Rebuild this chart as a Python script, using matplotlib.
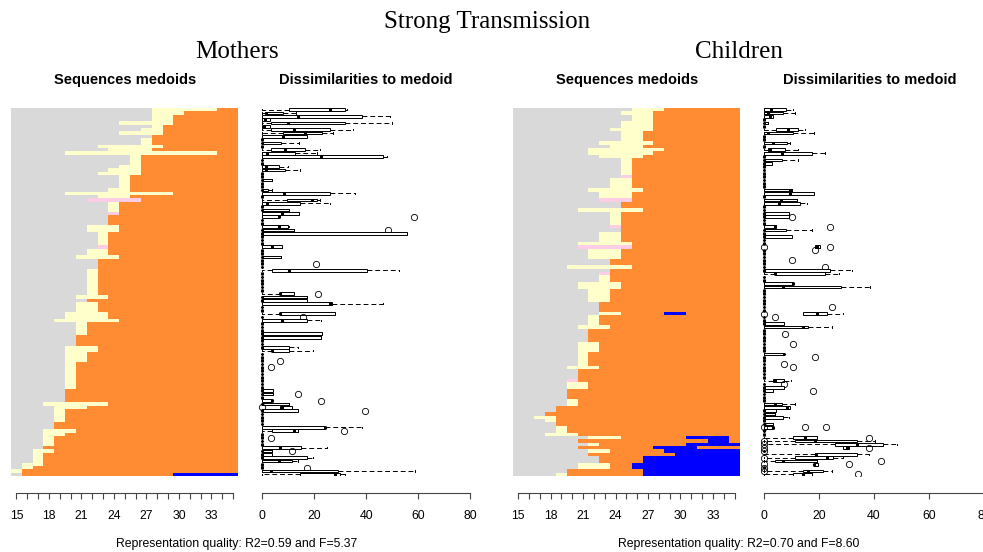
import matplotlib
matplotlib.use('Agg')
import matplotlib.pyplot as plt

plt.rcParams['font.family'] = ['Liberation Sans', 'DejaVu Sans']

W, H = 983, 552

ages = list(range(15, 36))
age_labels = [str(a) if (a - 15) % 3 == 0 and a < 35 else '' for a in ages]
dissim_ticks = [0, 20, 40, 60, 80]

state_colors = {'G': '#D9D9D9', 'Y': '#FFFFCC', 'P': '#FCCDE5',
                'O': '#FF8C33', 'B': '#0000FF'}

# medoid sequences, one per row, as state/duration runs (ages 15-35)
mothers_seq = [
    "G13-Y6-O2", "G13-Y3-O5", "G13-Y2-O6", "G13-Y2-O6", "G10-Y5-O6", "G13-Y1-O7", "G12-Y2-O7", "G10-Y4-O7", "G13-O8", "G12-Y1-O8",
    "G12-Y1-O8", "G8-Y6-O7", "G9-Y4-O8", "G5-Y14-O2", "G11-Y1-O9", "G11-Y1-O9", "G11-Y1-O9", "G10-Y2-O9", "G9-Y3-O9", "G8-Y4-O9",
    "G10-Y1-O10", "G10-Y1-O10", "G10-Y1-O10", "G10-Y1-O10", "G9-Y2-O10", "G5-Y10-O6", "G8-Y3-O10", "G7-P5-O9", "G9-Y1-O11", "G9-Y1-O11",
    "G9-Y1-O11", "G9-P1-O11", "G9-O12", "G9-O12", "G9-O12", "G7-Y3-O11", "G7-Y3-O11", "G8-Y1-O12", "G8-Y1-O12", "G8-Y1-O12",
    "G8-Y1-O12", "G8-P1-O12", "G7-Y2-O12", "G7-Y2-O12", "G6-Y4-O11", "G8-O13", "G8-O13", "G8-O13", "G7-Y1-O13", "G7-Y1-O13",
    "G7-Y1-O13", "G7-Y1-O13", "G7-Y1-O13", "G7-Y1-O13", "G7-Y1-O13", "G7-Y1-O13", "G6-Y3-O12", "G7-O14", "G6-Y2-O13", "G6-Y2-O13",
    "G6-Y2-O13", "G5-Y4-O12", "G5-Y4-O12", "G4-Y6-O11", "G6-Y1-O14", "G6-Y1-O14", "G6-Y1-O14", "G6-Y1-O14", "G6-O15", "G6-O15",
    "G6-O15", "G5-Y3-O13", "G5-Y3-O13", "G5-Y2-O14", "G5-Y2-O14", "G5-Y2-O14", "G5-Y1-O15", "G5-Y1-O15", "G5-Y1-O15", "G5-Y1-O15",
    "G5-Y1-O15", "G5-Y1-O15", "G5-Y1-O15", "G5-Y1-O15", "G5-O16", "G5-O16", "G5-O16", "G5-O16", "G3-Y6-O12", "G4-Y3-O14",
    "G4-Y1-O16", "G4-Y1-O16", "G4-Y1-O16", "G4-Y1-O16", "G4-O17", "G4-O17", "G3-Y3-O15", "G3-Y2-O16", "G3-Y1-O17", "G3-Y1-O17",
    "G3-Y1-O17", "G3-O18", "G2-Y2-O17", "G2-Y1-O18", "G2-Y1-O18", "G2-Y1-O18", "G1-Y2-O18", "G1-Y1-O19", "Y1-O20", "G1-O14-B6",
]

children_seq = [
    "G11-Y3-O7", "G10-Y3-O8", "G11-Y2-O8", "G11-Y2-O8", "G10-Y3-O8", "G10-Y3-O8", "G9-Y4-O8", "G10-Y2-O9", "G10-Y2-O9", "G10-Y2-O9",
    "G8-Y5-O8", "G9-Y3-O9", "G7-Y7-O7", "G7-Y6-O8", "G8-Y4-O9", "G10-Y1-O10", "G10-Y1-O10", "G10-Y1-O10", "G10-Y1-O10", "G10-Y1-O10",
    "G10-P1-O10", "G9-Y2-O10", "G9-Y2-O10", "G9-Y2-O10", "G7-Y5-O9", "G8-Y3-O10", "G8-Y3-O10", "G8-P3-O10", "G10-O11", "G10-O11",
    "G6-Y6-O9", "G9-Y1-O11", "G9-Y1-O11", "G9-Y1-O11", "G9-Y1-O11", "G9-P1-O11", "G10-O11", "G8-Y2-O11", "G8-Y2-O11", "G8-Y2-O11",
    "G6-Y5-O10", "G6-P5-O10", "G7-Y3-O11", "G7-Y3-O11", "G7-Y3-O11", "G9-O12", "G9-O12", "G5-Y6-O10", "G9-O12", "G8-P1-O12",
    "G8-Y1-O12", "G8-Y1-O12", "G6-Y4-O11", "G6-Y4-O11", "G7-Y2-O12", "G7-Y2-O12", "G7-Y2-O12", "G7-Y2-O12", "G8-O13", "G8-O13",
    "G8-O13", "G8-Y2-O4-B2-O5", "G7-Y1-O13", "G7-Y1-O13", "G7-Y1-O13", "G6-Y3-O12", "G7-O14", "G7-O14", "G7-O14", "G7-O14",
    "G6-Y2-O13", "G6-Y2-O13", "G6-Y2-O13", "G6-Y1-O14", "G6-Y1-O14", "G6-Y1-O14", "G6-Y1-O14", "G5-Y3-O13", "G6-O15", "G6-O15",
    "G6-O15", "G5-P1-O15", "G5-Y2-O14", "G5-Y2-O14", "G5-O16", "G5-O16", "G5-O16", "G5-Y1-O15", "G5-Y1-O15", "G4-O17",
    "G4-O17", "G3-O18", "G2-Y2-O17", "G3-Y1-O17", "G4-O17", "G4-Y1-O16", "G4-Y1-O16", "G3-Y3-O15", "G7-Y3-O6-B4-O1", "G6-O12-B2-O1",
    "G7-Y1-O8-B5", "G6-O7-B4-O4", "G7-Y2-O5-B7", "G7-O8-B6", "G8-O4-B9", "G8-O4-B9", "G6-Y3-O2-B10", "G6-Y3-O2-B10", "G5-O7-B9", "G4-Y1-O7-B9",
]

# dissimilarity boxplots: (row, whisker low, q1, median, q3, whisker high)
# rows not listed have every dissimilarity at 0
mothers_box = [
    (0, 0, 10.4, 26, 31.8, 32.7), (1, 0, 1, 1.4, 8, 13), (2, 0, 0, 13.6, 38.2, 49),
    (3, 0, 0, 1, 3, 3), (4, 0, 3.3, 10, 31.8, 50), (5, 0, 0, 0.5, 3, 3),
    (6, 0, 3.3, 12, 26, 35), (7, 0, 8, 16.4, 23, 27), (8, 0, 0, 8, 17, 17),
    (10, 0, 0, 0, 7, 14), (12, 0, 3.3, 8.7, 16.4, 22), (13, 0, 0, 1.7, 12.6, 21),
    (14, 0, 0, 22.4, 46.3, 47.8), (17, 0, 0, 1.4, 6.5, 10), (18, 0, 0, 1.4, 8.7, 14.5),
    (21, 0, 0, 0, 3.6, 3.6), (24, 0, 0, 0, 2, 3.6), (25, 0, 0, 8.5, 26, 35.6),
    (27, 0, 9.4, 19, 20.9, 22), (28, 0, 0, 1.7, 14.5, 26), (30, 0, 0, 0, 10.4, 10.4),
    (31, 0, 0, 7.7, 14.2, 14.2), (32, 0, 0, 6.5, 6.5, 6.5), (35, 0, 0, 6.5, 10, 10.4),
    (36, 0, 0, 0, 12, 12), (37, 0, 0, 0, 55.5, 55.5), (41, 0, 0, 3.6, 7.7, 7.7),
    (44, 0, 0, 0, 7, 7), (48, 0, 3.8, 10.4, 40.4, 52.6), (55, 0, 6.8, 6.8, 12, 12),
    (56, 0, 0, 0, 17, 17), (57, 0, 0, 0, 17, 17), (58, 0, 0, 26, 26.7, 46.5),
    (61, 0, 6.8, 6.8, 28, 28), (63, 0, 0, 7.4, 17, 22.4), (67, 0, 0, 0, 22.8, 22.8),
    (68, 0, 0, 0, 22.4, 22.4), (71, 0, 0, 0, 10.4, 13.8), (72, 0, 3.6, 3.6, 10.4, 19.6),
    (84, 0, 0, 0, 4.2, 4.2), (85, 0, 0, 0, 4, 4), (87, 0, 0, 3.6, 3.6, 3.6),
    (88, 0, 0, 0, 10.4, 10.4), (89, 6.8, 6.8, 7.4, 11.3, 11.3), (90, 0, 0, 0, 13.8, 13.8),
    (95, 0, 0, 24, 24, 38.2), (96, 0, 3.6, 12, 13.8, 13.8), (101, 0, 0, 6.8, 15, 24.7),
    (102, 0, 0, 0, 3.6, 3.6), (103, 0, 0, 0, 3.6, 3.6), (104, 0, 0, 0, 17.3, 19.6),
    (105, 0, 0, 6.5, 11.3, 13.6), (108, 0, 0, 3.2, 29, 58.7), (109, 0, 14.5, 28, 29.9, 31.8),
]
mothers_out = [
    (32, 58.5), (36, 48.5), (46, 20.5), (55, 21.5), (62, 15.8), (75, 6.8),
    (77, 3.2), (85, 13.6), (87, 22.6), (89, 0), (90, 39.5), (96, 31.5),
    (98, 3.2), (102, 11.5), (107, 17.3),
]

children_box = [
    (0, 0, 0, 2.4, 8, 10.7), (1, 0, 0, 1.6, 7, 11.2), (2, 0, 0, 2.2, 3.2, 3.2),
    (4, 0, 0, 0, 1.6, 1.6), (6, 0, 4.4, 8.8, 12.2, 15), (7, 0, 0, 1.6, 10.7, 18),
    (10, 0, 0, 3.4, 8.2, 9.5), (12, 0, 1.6, 2.2, 7.8, 12.5), (13, 0, 0, 6.4, 17.3, 22.2),
    (15, 0, 0, 0, 6.4, 12.5), (16, 0, 0, 0, 2.8, 2.8), (24, 0, 0, 9.3, 10, 10),
    (25, 0, 0, 9.3, 18, 18), (27, 0, 0, 6, 12, 12), (28, 0, 0, 5.6, 13, 15.5),
    (31, 0, 0, 0, 9.2, 9.2), (32, 0, 0, 0, 9.2, 9.2), (35, 0, 0, 4, 4.4, 4.4),
    (36, 0, 0, 0, 8, 17.3), (38, 0, 0, 0, 10, 10), (41, 18.5, 18.5, 19.2, 20.4, 20.4),
    (48, 0, 0, 0, 24, 31.9), (49, 0, 4, 4, 22.2, 27.4), (52, 0, 0, 10.7, 10.7, 10.7),
    (53, 0, 0, 7, 27.9, 38.5), (61, 14.3, 14.3, 19.2, 23, 28.8), (64, 0, 0, 0, 7.3, 7.3),
    (65, 0, 0, 14, 16.1, 24.6), (73, 0, 0, 7.3, 7.3, 7.3), (81, 0, 3.4, 4, 7.3, 9.7),
    (83, 0, 0, 0, 7.3, 7.3), (84, 0, 0, 0, 3.4, 3.4), (88, 0, 0, 4, 6.4, 11.3),
    (89, 0, 0, 8.2, 9.5, 9.5), (90, 0, 0, 0, 4.4, 4.4), (91, 0, 0, 0, 4, 4),
    (92, 0, 0, 0, 7, 9.2), (94, 0, 0, 0, 3.4, 3.4), (95, 0, 0, 3.4, 3.4, 3.4),
    (98, 0, 10.7, 14.9, 19.2, 19.2), (99, 0, 11.3, 18.5, 33.7, 40.4), (100, 0, 25.8, 33.7, 43.4, 48.2),
    (101, 28.8, 28.8, 30, 31, 31), (103, 0, 18.5, 18.9, 33.7, 38), (104, 0, 11.3, 22.8, 25.2, 28.8),
    (105, 0, 4, 7, 19.2, 19.2), (106, 18, 18, 18, 19.8, 19.8), (108, 0, 14, 16.1, 21.6, 24.6),
    (109, 0, 10.4, 14.3, 17.3, 17.3),
]
children_out = [
    (32, 10), (35, 24), (41, 0), (41, 24), (42, 18.5), (45, 10), (47, 22.2),
    (59, 24.6), (61, 0), (62, 4), (67, 7.6), (70, 10.7), (74, 18.5), (76, 7.3),
    (77, 10.7), (82, 7.3), (84, 17.7), (95, 0), (95, 14.9), (95, 22.5),
    (98, 38), (99, 0), (100, 0), (101, 0), (101, 38), (102, 0), (104, 0),
    (105, 42.5), (106, 0), (106, 31), (107, 0), (108, 0), (109, 34.3),
]

fig = plt.figure(figsize=(W / 100, H / 100), dpi=100)


def px_axes(x0, x1, y0, y1):
    return fig.add_axes([x0 / W, 1 - y1 / H, (x1 - x0) / W, (y1 - y0) / H])


def style_axis(ax, ticks, labels):
    for side in ('top', 'right', 'left'):
        ax.spines[side].set_visible(False)
    ax.spines['bottom'].set_position(('outward', 12))
    ax.spines['bottom'].set_bounds(ticks[0], ticks[-1])
    ax.spines['bottom'].set_linewidth(0.8)
    ax.spines['bottom'].set_color('#444444')
    ax.set_xticks(ticks)
    ax.set_xticklabels(labels)
    ax.tick_params(axis='x', length=4.2, width=0.8, color='#444444', pad=8, labelsize=8.8)
    ax.set_yticks([])
    ax.patch.set_visible(False)


def draw_medoids(ax, seqs):
    rows, lefts, widths, colors = [], [], [], []
    for i, s in enumerate(seqs):
        start = ages[0] - 0.5
        for run in s.split('-'):
            n = int(run[1:])
            rows.append(i)
            lefts.append(start)
            widths.append(n)
            colors.append(state_colors[run[0]])
            start += n
    ax.barh(rows, widths, left=lefts, height=1, color=colors, linewidth=0)
    ax.set_xlim(ages[0] - 0.5, ages[-1] + 0.5)
    ax.set_ylim(len(seqs) - 0.5, -0.5)
    style_axis(ax, ages, age_labels)


def draw_dissim(ax, box_rows, outliers, n):
    table = {r[0]: r[1:] for r in box_rows}
    stats = []
    for i in range(n):
        lo, q1, med, q3, hi = table.get(i, (0, 0, 0, 0, 0))
        stats.append(dict(whislo=lo, q1=q1, med=med, q3=q3, whishi=hi,
                          fliers=[v for r, v in outliers if r == i]))
    ax.bxp(stats, positions=range(n), widths=0.8, orientation='horizontal',
           patch_artist=True, capwidths=0.4, manage_ticks=False,
           boxprops=dict(facecolor='white', edgecolor='black', linewidth=0.7),
           medianprops=dict(color='black', linewidth=2.2, solid_capstyle='butt'),
           whiskerprops=dict(color='black', linewidth=0.7, linestyle=(0, (5, 3))),
           capprops=dict(color='black', linewidth=0.7),
           flierprops=dict(marker='o', markersize=4.5, markerfacecolor='none',
                           markeredgecolor='black', markeredgewidth=0.6))
    ax.set_xlim(-3.2, 83.2)
    ax.set_ylim(n - 0.5, -0.5)
    style_axis(ax, dissim_ticks, [str(t) for t in dissim_ticks])


ax1 = px_axes(11, 238.5, 108, 476)
draw_medoids(ax1, mothers_seq)
ax2 = px_axes(254, 478.6, 108, 476)
draw_dissim(ax2, mothers_box, mothers_out, len(mothers_seq))

ax3 = px_axes(512.7, 740, 108, 476)
draw_medoids(ax3, children_seq)
ax4 = px_axes(755.2, 992.8, 108, 476)
draw_dissim(ax4, children_box, children_out, len(children_seq))

serif = ['Liberation Serif', 'DejaVu Serif']
fig.text(487 / W, 1 - 22 / H, 'Strong Transmission', family=serif, fontsize=18,
         ha='center', va='center')
fig.text(237 / W, 1 - 52 / H, 'Mothers', family=serif, fontsize=18, ha='center', va='center')
fig.text(739 / W, 1 - 52 / H, 'Children', family=serif, fontsize=18, ha='center', va='center')

for x, label in [(125, 'Sequences medoids'), (366, 'Dissimilarities to medoid'),
                 (627, 'Sequences medoids'), (870, 'Dissimilarities to medoid')]:
    fig.text(x / W, 1 - 80 / H, label, fontsize=10.5, fontweight='bold', ha='center', va='center')

fig.text(237 / W, 1 - 544 / H, 'Representation quality: R2=0.59 and F=5.37',
         fontsize=8.8, ha='center', va='center')
fig.text(739 / W, 1 - 544 / H, 'Representation quality: R2=0.70 and F=8.60',
         fontsize=8.8, ha='center', va='center')

fig.savefig('out.png', dpi=100)
